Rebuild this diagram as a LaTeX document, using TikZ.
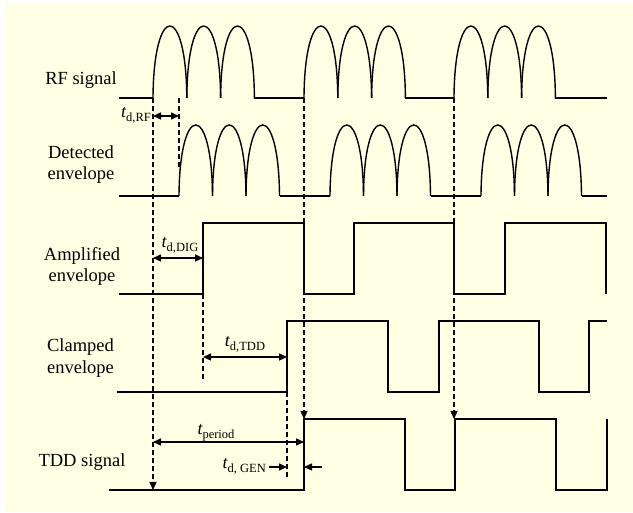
\documentclass[tikz,border=0pt]{standalone}
\usepackage{fontspec}
\setmainfont{Liberation Serif}
\usetikzlibrary{arrows.meta}
\definecolor{bgyellow}{RGB}{255,255,227}
\newcommand{\tlab}[1]{{\fontsize{18}{20}\selectfont\itshape t}\raisebox{-3.5pt}{\fontsize{12.5}{14}\selectfont #1}}
% three arches: start x, arch width, base y, control y
\newcommand{\burstarches}[4]{%
  \foreach \k in {0,1,2}{%
    \draw[sig] ({#1+\k*#2},#3) .. controls ({#1+\k*#2+0.6},#4) and ({#1+(\k+1)*#2-0.6},#4) .. ({#1+(\k+1)*#2},#3);
  }}
\begin{document}
\begin{tikzpicture}[x=1pt,y=-1pt,
  sig/.style={line width=1.4pt, line join=miter},
  guide/.style={line width=1.3pt, dash pattern=on 5pt off 3pt},
  tipend/.style={-{Triangle[length=8pt,width=7pt]}},
  dimarrow/.style={line width=1.4pt,{Triangle[length=8pt,width=7pt]}-{Triangle[length=8pt,width=7pt]}},
  onearrow/.style={line width=1.4pt,-{Triangle[length=8pt,width=7pt]}},
  lbl/.style={font=\fontsize{18.5}{21.5}\selectfont, inner sep=0pt, align=center},
  tl/.style={inner sep=0pt}]
\useasboundingbox (0,0) rectangle (633,513);
\fill[bgyellow] (6,4) rectangle (633,512);

% signal labels
\node[lbl, anchor=base] (lrf) at (81,85) {RF signal};
\node[lbl] (ldet) at (81,164.7) {Detected\\envelope};
\node[lbl] (lamp) at (82,266.5) {Amplified\\envelope};
\node[lbl] (lcl) at (80.5,358) {Clamped\\envelope};
\node[lbl, anchor=base] (ltdd) at (82,467) {TDD signal};

% RF signal
\draw[sig] (119,98) -- (153,98);
\burstarches{153}{33.8}{98}{2}
\draw[sig] (254.4,98) -- (304,98);
\burstarches{304}{33.8}{98}{2}
\draw[sig] (405.4,98) -- (454,98);
\burstarches{454}{33.8}{98}{2}
\draw[sig] (555.4,98) -- (607,98);

% Detected envelope
\draw[sig] (119,196) -- (179,196);
\burstarches{179}{33.5}{196}{101.3}
\draw[sig] (279.5,196) -- (330,196);
\burstarches{330}{33.5}{196}{101.3}
\draw[sig] (430.5,196) -- (481,196);
\burstarches{481}{33.5}{196}{101.3}
\draw[sig] (581.5,196) -- (607,196);

% Amplified envelope
\draw[sig] (119,294) -- (203,294) -- (203,223) -- (304,223) -- (304,294) -- (354,294) -- (354,223) -- (454,223) -- (454,294) -- (505,294) -- (505,223) -- (606,223) -- (606,294);

% Clamped envelope
\draw[sig] (117,392) -- (287,392) -- (287,321) -- (388,321) -- (388,392) -- (439,392) -- (439,321) -- (539,321) -- (539,392) -- (589,392) -- (589,321) -- (607,321);

% TDD signal
\draw[sig] (109,490) -- (304,490) -- (304,419) -- (405,419) -- (405,490) -- (455,490) -- (455,419) -- (556,419) -- (556,490) -- (607,490) -- (607,419);

% guide coordinates
\coordinate (g1a) at (153,98);  \coordinate (g1b) at (153,490);
\coordinate (g2a) at (304,98);  \coordinate (g2b) at (304,419);
\coordinate (g3a) at (454,98);  \coordinate (g3b) at (454,419);
\coordinate (g4a) at (179,98);  \coordinate (g4b) at (179,170);
\coordinate (g5a) at (203,294); \coordinate (g5b) at (203,382);
\coordinate (g6a) at (287,392); \coordinate (g6b) at (287,478);

\draw[guide, tipend] (g1a) -- (g1b);
\draw[guide, tipend] (g2a) -- (g2b);
\draw[guide, tipend] (g3a) -- (g3b);
\draw[guide] (g4a) -- (g4b);
\draw[guide] (g5a) -- (g5b);
\draw[guide] (g6a) -- (g6b);

% dimension arrows
\coordinate (rfL) at (153,116); \coordinate (rfR) at (179,116);
\draw[dimarrow] (rfL) -- (rfR);
\node[tl, anchor=base east] (trf) at (151,118) {\tlab{d,RF}};

\coordinate (digL) at (153,258); \coordinate (digR) at (203,258);
\draw[dimarrow] (digL) -- (digR);
\node[tl, anchor=base] (tdig) at (180,248) {\tlab{d,DIG}};

\coordinate (tddL) at (203,357); \coordinate (tddR) at (287,357);
\draw[dimarrow] (tddL) -- (tddR);
\node[tl, anchor=base] (ttdd) at (245,347) {\tlab{d,TDD}};

\coordinate (perL) at (153,442); \coordinate (perR) at (304,442);
\draw[dimarrow] (perL) -- (perR);
\node[tl, anchor=base] (tper) at (216,435) {\tlab{period}};

\coordinate (genA) at (269,467); \coordinate (genB) at (287,467);
\coordinate (genC) at (322,467); \coordinate (genD) at (304,467);
\draw[onearrow] (genA) -- (genB);
\draw[onearrow] (genC) -- (genD);
\node[tl, anchor=base east] (tgen) at (266,469) {\tlab{d, GEN}};
\end{tikzpicture}
\end{document}
